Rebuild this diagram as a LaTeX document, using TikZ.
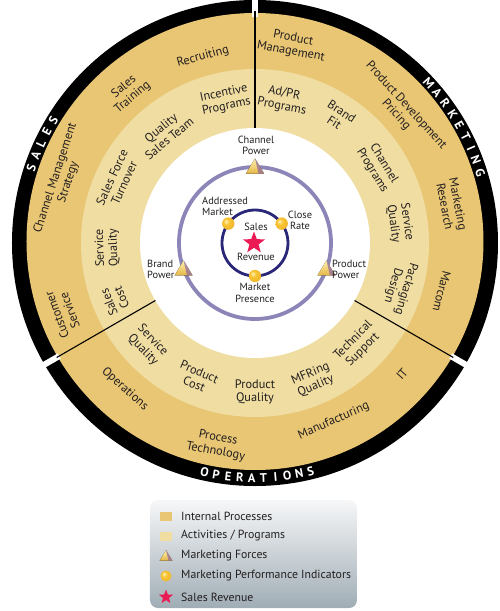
\documentclass[tikz,border=0pt]{standalone}
\usepackage{fontspec}
\setmainfont{PT Sans}
\usetikzlibrary{shapes.geometric}
\definecolor{ringdark}{RGB}{233,198,116}
\definecolor{ringlight}{RGB}{240,221,162}
\definecolor{lav}{RGB}{140,134,184}
\definecolor{navyc}{RGB}{42,38,120}
\definecolor{starred}{RGB}{236,26,84}
\definecolor{txt}{RGB}{35,31,32}
\definecolor{ballhi}{RGB}{255,246,190}
\definecolor{ballgold}{RGB}{248,196,50}
\definecolor{ballrim}{RGB}{200,120,30}
\definecolor{trigold}{RGB}{228,182,70}
\definecolor{trilight}{RGB}{255,242,175}
\definecolor{trivio}{RGB}{140,100,160}
\definecolor{legtop}{RGB}{246,247,248}
\definecolor{legbot}{RGB}{160,173,181}
\pgfdeclareradialshading{goldball}{\pgfpoint{-10bp}{10bp}}{%
  color(0bp)=(ballhi); color(12bp)=(ballgold); color(30bp)=(ballgold!80!ballrim);
  color(40bp)=(ballrim); color(50bp)=(ballrim)}
\begin{document}
\begin{tikzpicture}[x=1pt,y=1pt,
  text=txt,
  rl/.style={align=center, inner sep=0pt, font=\fontsize{12.3}{13.5}\selectfont},
  il/.style={inner sep=0pt, font=\fontsize{10.4}{11.2}\selectfont},
  bandletter/.style={text=white, inner sep=0pt, font=\fontsize{12.5}{12.5}\bfseries\selectfont},
  divider/.style={draw=black, line width=1.1pt},
  legtext/.style={anchor=west, inner sep=0pt, font=\fontsize{11.8}{13}\selectfont},
  legsq/.style={minimum width=12pt, minimum height=9pt, inner sep=0pt},
  force/.pic={
    \fill[top color=trilight, bottom color=trigold] (0,8.5) -- (-9,-6.5) -- (9,-6.5) -- cycle;
    \fill[trivio, opacity=0.7] (0,8.5) -- (9,-6.5) -- (3.5,-6.5) -- cycle;
  },
  mball/.style={shading=goldball},
  sstar/.style={star, star points=5, star point ratio=2.4, fill=starred, inner sep=0pt}
]
\useasboundingbox (-255,243) rectangle (245,-368);

% rings
\fill[black] (0,0) circle (243);
\fill[ringdark] (0,1.5) circle (228.5);
\fill[ringlight] (0,0) circle (174);
\fill[white] (0,0) circle (115);

% gaps in the black band
\foreach \a in {90,210,330} {
  \fill[white, rotate=\a] (226,-3) rectangle (246,3);
}

% dividers
\draw[divider] (90:115) -- (90:232);
\draw[divider] (210:115) -- (210:229);
\draw[divider] (330:115) -- (330:229);

% band letters
\foreach \l [count=\i from 0] in {S,A,L,E,S}
  \node[bandletter, rotate={161.5-\i*3.2-90}] (sal\i) at ({161.5-\i*3.2}:236) {\l};
\foreach \l [count=\i from 0] in {M,A,R,K,E,T,I,N,G}
  \node[bandletter, rotate={42.6-\i*3.15-90}] (mkt\i) at ({42.6-\i*3.15}:236) {\l};
\foreach \l [count=\i from 0] in {O,P,E,R,A,T,I,O,N,S}
  \node[bandletter, rotate={257.6+\i*2.9+90}] (ops\i) at ({257.6+\i*2.9}:235) {\l};

% outer ring labels
\node[rl, rotate=15.6] (recr) at (105.6:193.4) {Recruiting};
\node[rl, rotate=40] (strn) at (130:197) {Sales\\Training};
\node[rl, rotate=72] (cms) at (162:203) {Channel Management\\Strategy};
\node[rl, rotate=110] (cust) at (200:204) {Customer\\Service};
\node[rl, rotate=-41.7] (oper) at (228.3:195.5) {Operations};
\node[rl, rotate=-10.7] (proc) at (259.3:205.5) {Process\\Technology};
\node[rl, rotate=23.9] (manu) at (293.9:194.7) {Manufacturing};
\node[rl, rotate=48.3] (itn) at (318.3:197) {IT};
\node[rl, rotate=-104.5] (marc) at (345.5:193) {Marcom};
\node[rl, rotate=-79.1] (mres) at (10.9:200.3) {Marketing\\Research};
\node[rl, rotate=-47.7] (pdev) at (42.3:197.5) {Product Development\\Pricing};
\node[rl, rotate=-10.6] (pman) at (79.4:201.4) {Product\\Management};

% inner ring labels
\node[rl, rotate=11.8] (inc) at (101.8:146) {Incentive\\Programs};
\node[rl, rotate=39.3] (qst) at (129.3:142) {Quality\\Sales Team};
\node[rl, rotate=65.3] (sft) at (155.3:150.8) {Sales Force\\Turnover};
\node[rl, rotate=91.9] (sqa) at (181.9:148) {Service\\Quality};
\node[rl, rotate=112.2] (scost) at (202.2:151) {Sales\\Cost};
\node[rl, rotate=-46.4] (sqb) at (223.6:148) {Service\\Quality};
\node[rl, rotate=-23.3] (pcost) at (246.7:147) {Product\\Cost};
\node[rl] (pqual) at (270:149) {Product\\Quality};
\node[rl, rotate=23] (mfq) at (293:148.8) {MFRing\\Quality};
\node[rl, rotate=45.3] (tsup) at (315.3:145) {Technical\\Support};
\node[rl, rotate=-107] (pkg) at (343:151) {Packaging\\Design};
\node[rl, rotate=-82.1] (sqc) at (7.9:146.4) {Service\\Quality};
\node[rl, rotate=-58.3] (chp) at (31.7:144.6) {Channel\\Programs};
\node[rl, rotate=-33.4] (bfit) at (56.6:150.9) {Brand\\Fit};
\node[rl, rotate=-11.1] (adpr) at (78.9:145.7) {Ad/PR\\Programs};

% inner circles
\draw[lav, line width=3.8pt] (0,0) circle (76);
\draw[navyc, line width=2.8pt] (0,0) circle (33);

% marketing forces
\pic (fchan) at (90:76) {force};
\pic (fbrand) at (200:76) {force};
\pic (fprod) at (340:76) {force};

% performance indicators
\shade[mball] (144:33) circle (6.2);
\shade[mball] (36:33) circle (6.2);
\shade[mball] (270:33) circle (6.2);

% sales revenue
\node[sstar, minimum size=23pt] (srev) at (-1,0) {};
\node[il] (salesl) at (1,16) {Sales};
\node[il] (revl) at (1,-14) {Revenue};

% inner labels
\node[il, align=center] (chpow) at (1,98) {Channel\\Power};
\node[il, align=left, anchor=west] (addm) at (-53,37) {Addressed\\Market};
\node[il, align=center] (close) at (45,23) {Close\\Rate};
\node[il, align=left, anchor=west] (brpow) at (-108,-26) {Brand\\Power};
\node[il, align=left, anchor=west] (prpow) at (77,-26) {Product\\Power};
\node[il, align=center] (mpres) at (0,-50) {Market\\Presence};

% legend
\node[rounded corners=8pt, top color=legtop, bottom color=legbot,
      minimum width=207pt, minimum height=108pt, inner sep=0pt] (legend) at (-1.5,-311) {};
\node[legsq, fill=ringdark] (lq1) at (-89,-273) {};
\node[legtext] (lt1) at (-74,-273) {Internal Processes};
\node[legsq, fill=ringlight] (lq2) at (-89,-293) {};
\node[legtext] (lt2) at (-74,-293) {Activities / Programs};
\pic[scale=0.7] (lf) at (-89,-313) {force};
\node[legtext] (lt3) at (-74,-313) {Marketing Forces};
\shade[mball] (-89,-333) circle (5.5);
\node[legtext] (lt4) at (-74,-333) {Marketing Performance Indicators};
\node[sstar, minimum size=15pt] (lstar) at (-89,-354) {};
\node[legtext] (lt5) at (-74,-354) {Sales Revenue};
\end{tikzpicture}
\end{document}
